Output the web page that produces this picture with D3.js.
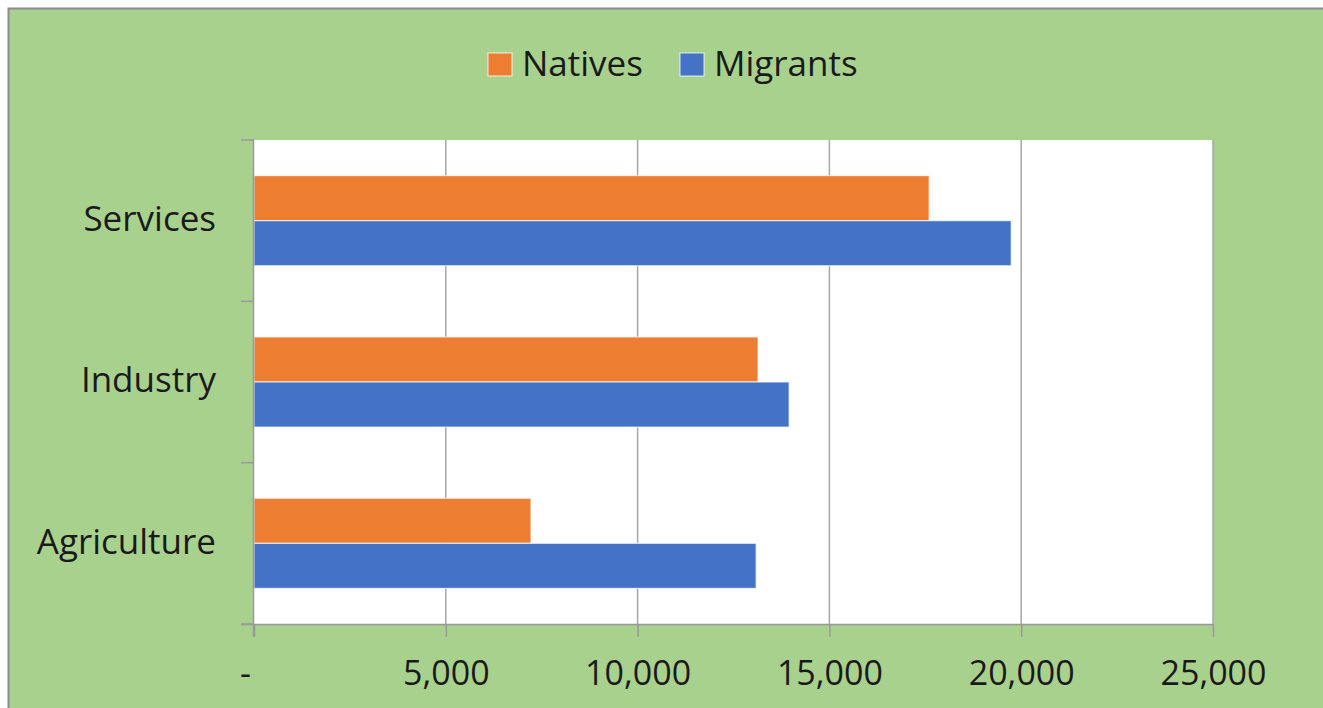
<!DOCTYPE html>
<html><head><meta charset="utf-8">
<script src="https://cdn.jsdelivr.net/npm/d3@7"></script>
<style>html,body{margin:0;padding:0;background:#fff;}svg{display:block;}</style>
</head><body>
<svg id="chart" width="1323" height="708"></svg>
<script>
const categories = ["Services", "Industry", "Agriculture"];
const seriesNames = ["Natives", "Migrants"];
const natives = [17600, 13140, 7220];
const migrants = [19740, 13950, 13090];
const xTicks = [0, 5000, 10000, 15000, 20000, 25000];
const colors = ["#ED7D31", "#4472C4"];

(function () {
const font = "'Open Sans', sans-serif";
const svg = d3.select("#chart");
svg.append("rect").attr("x", 8.5).attr("y", 8.5).attr("width", 1330).attr("height", 720)
  .attr("fill", "#A9D18E").attr("stroke", "#8c8c8c").attr("stroke-width", 2);

const pL = 254, pR = 1213, pT = 140, pB = 624;
const x = d3.scaleLinear().domain([0, 25000]).range([pL, pR]);
const y = d3.scaleBand().domain(categories).range([pT, pB]).paddingInner(0).paddingOuter(0);
const ys = d3.scaleBand().domain(seriesNames).range([0, y.bandwidth()]).paddingInner(0).paddingOuter(0.79);

svg.append("rect").attr("x", pL).attr("y", pT).attr("width", pR - pL).attr("height", pB - pT).attr("fill", "#fff");

// gridlines
svg.append("g").selectAll("line").data(xTicks.slice(1)).join("line")
  .attr("x1", d => x(d)).attr("x2", d => x(d)).attr("y1", pT).attr("y2", pB)
  .attr("stroke", "#a6a6a6").attr("stroke-width", 1.5);

// bars
const data = categories.flatMap((c, i) => [
  {c, s: "Natives", v: natives[i], col: colors[0]},
  {c, s: "Migrants", v: migrants[i], col: colors[1]}
]);
svg.append("g").selectAll("rect").data(data).join("rect")
  .attr("x", x(0)).attr("y", d => y(d.c) + ys(d.s))
  .attr("width", d => x(d.v) - x(0)).attr("height", ys.bandwidth())
  .attr("fill", d => d.col).attr("stroke", "#fff").attr("stroke-opacity", 0.7).attr("stroke-width", 1.2);

// x axis
const xAxis = d3.axisBottom(x).tickValues(xTicks).tickSize(13).tickPadding(24)
  .tickFormat(d => d === 0 ? "-" : d3.format(",")(d));
const gx = svg.append("g").attr("transform", `translate(0,${pB})`).call(xAxis);
gx.select(".domain").attr("stroke", "#999").attr("stroke-width", 1.5).attr("d", `M${pL - 13},0.5H${pR}`);
gx.selectAll(".tick line").attr("stroke", "#999").attr("stroke-width", 1.5);
gx.selectAll(".tick text").attr("fill", "#1a1a1a").style("font-family", font).style("font-size", "34px")
  .attr("dx", d => d === 0 ? -9 : 0);

// y axis
const gy = svg.append("g");
gy.append("line").attr("x1", pL - 0.5).attr("x2", pL - 0.5).attr("y1", pT).attr("y2", pB + 13)
  .attr("stroke", "#999").attr("stroke-width", 1.5);
const bounds = categories.map(c => y(c)).concat([pB]);
gy.selectAll("line.t").data(bounds).join("line").attr("class", "t")
  .attr("x1", pL - 13).attr("x2", pL).attr("y1", d => d).attr("y2", d => d)
  .attr("stroke", "#999").attr("stroke-width", 1.5);
gy.selectAll("text").data(categories).join("text")
  .attr("x", pL - 38).attr("y", d => y(d) + y.bandwidth() / 2 + 1)
  .attr("text-anchor", "end").attr("dominant-baseline", "middle")
  .attr("fill", "#1a1a1a").style("font-family", font).style("font-size", "35px").text(d => d);

// legend
const legend = svg.append("g");
const items = [{n: "Natives", c: colors[0], x: 488}, {n: "Migrants", c: colors[1], x: 680}];
items.forEach(it => {
  legend.append("rect").attr("x", it.x).attr("y", 53).attr("width", 24).attr("height", 23)
    .attr("fill", it.c).attr("stroke", "#fff").attr("stroke-opacity", 0.8);
  legend.append("text").attr("x", it.x + 34).attr("y", 67).attr("dominant-baseline", "middle")
    .attr("fill", "#1a1a1a").style("font-family", font).style("font-size", "35px").text(it.n);
});
})();
</script>
</body></html>
